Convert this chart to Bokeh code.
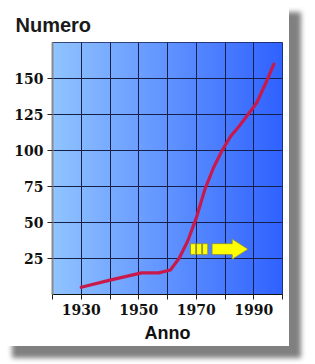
import numpy as np
from bokeh.plotting import figure
from bokeh.models import FixedTicker
from bokeh.embed import file_html
from bokeh.resources import INLINE

# ---- data ----
years = [1930, 1940, 1951, 1957, 1961, 1964, 1967, 1970, 1973, 1976, 1979, 1982, 1985, 1988, 1991, 1994, 1997]
values = [5, 10, 15, 15, 17, 25, 37, 53, 73, 88, 100, 110, 117, 125, 133, 146, 160]
x_ticks = [1920, 1930, 1940, 1950, 1960, 1970, 1980, 1990, 2000]
x_labels = {1930: "1930", 1950: "1950", 1970: "1970", 1990: "1990"}
y_ticks = [25, 50, 75, 100, 125, 150]
x_range = (1920, 2000)
y_range = (0, 175)

# arrow decoration (data coordinates)
arrow_bars = [(1968.0, 1969.8), (1970.1, 1971.9), (1972.2, 1974.0)]
arrow_start, arrow_neck, arrow_tip = 1975.5, 1982.5, 1988.0
arrow_level, body_half, head_half = 31.5, 3.8, 7.0

p = figure(width=289, height=346, x_range=x_range, y_range=y_range,
           output_backend="svg", toolbar_location=None,
           min_border_left=52, min_border_right=7, min_border_top=42, min_border_bottom=52)
p.styles = {"box-shadow": "12px 12px 5px #808080"}

# gradient background
n = 256
t = np.linspace(0, 1, n)
c0 = np.array([145, 196, 255])
c1 = np.array([48, 98, 255])
cols = (c0[None, :] * (1 - t[:, None]) + c1[None, :] * t[:, None]).astype(np.uint32)
row = (255 << 24) | (cols[:, 2] << 16) | (cols[:, 1] << 8) | cols[:, 0]
img = np.vstack([row, row]).astype(np.uint32)
p.image_rgba(image=[img], x=x_range[0], y=y_range[0],
             dw=x_range[1] - x_range[0], dh=y_range[1] - y_range[0], level="image")

p.line(years, values, line_color="#c8194a", line_width=3.2, line_join="round", line_cap="round")

# arrow
yb0, yb1 = arrow_level - body_half, arrow_level + body_half
p.quad(left=[b[0] for b in arrow_bars], right=[b[1] for b in arrow_bars],
       bottom=yb0, top=yb1, fill_color="#ffff00", line_color="#8a8a40", line_width=0.8)
ax = [arrow_start, arrow_neck, arrow_neck, arrow_tip, arrow_neck, arrow_neck, arrow_start]
ay = [yb0, yb0, arrow_level - head_half, arrow_level, arrow_level + head_half, yb1, yb1]
p.patch(ax, ay, fill_color="#ffff00", line_color="#8a8a40", line_width=0.8)

# grid / outline
p.grid.grid_line_color = "#14204a"
p.grid.grid_line_width = 1
p.grid.grid_line_alpha = 1
p.outline_line_color = "#14204a"
p.outline_line_width = 1
p.background_fill_color = "#8cbfff"

p.xaxis.ticker = FixedTicker(ticks=x_ticks)
p.xaxis.major_label_overrides = {t_: x_labels.get(t_, "") for t_ in x_ticks}
p.yaxis.ticker = FixedTicker(ticks=y_ticks)
p.xgrid.ticker = FixedTicker(ticks=x_ticks)
p.ygrid.ticker = FixedTicker(ticks=y_ticks)

for ax_ in (p.xaxis, p.yaxis):
    ax_.major_label_text_font = "DejaVu Serif"
    ax_.major_label_text_font_style = "bold"
    ax_.major_label_text_font_size = "14px"
    ax_.major_label_text_color = "#111111"
    ax_.major_tick_out = 5
    ax_.major_tick_in = 0
    ax_.minor_tick_out = 0
    ax_.minor_tick_in = 0
    ax_.major_tick_line_color = "#222222"
    ax_.major_label_standoff = 4
p.xaxis.axis_line_color = "#111111"
p.yaxis.axis_line_color = "#8a8a8a"
p.yaxis.axis_line_width = 2

p.xaxis.axis_label = "Anno"
p.xaxis.axis_label_text_font = "Liberation Sans"
p.xaxis.axis_label_text_font_size = "18px"
p.xaxis.axis_label_text_font_style = "bold"
p.xaxis.axis_label_text_color = "#111111"
p.xaxis.axis_label_standoff = 5

p.title.text = "Numero"
p.title.text_font = "Liberation Sans"
p.title.text_font_size = "20px"
p.title.text_font_style = "bold"
p.title.text_color = "#1a1a1a"
p.title.align = "left"
p.title.offset = -37
p.title.standoff = 13

open("out.html", "w").write(file_html(p, INLINE))
